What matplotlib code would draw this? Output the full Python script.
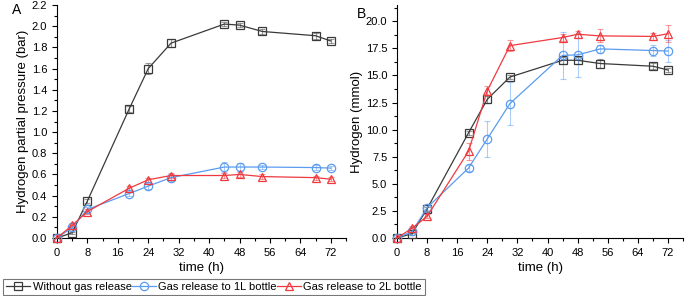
import matplotlib
matplotlib.use("Agg")
import matplotlib.pyplot as plt
from matplotlib.ticker import MultipleLocator, FormatStrFormatter

plt.rcParams['font.family'] = ['Liberation Sans', 'DejaVu Sans']

time_h = [0, 4, 8, 19, 24, 30, 44, 48, 54, 68, 72]

# Panel A: hydrogen partial pressure (bar)
a_without = [0, 0.05, 0.35, 1.22, 1.60, 1.84, 2.02, 2.01, 1.95, 1.91, 1.86]
a_without_err = [0, 0.01, 0.02, 0.03, 0.05, 0.04, 0.02, 0.02, 0.02, 0.03, 0.02]
a_1L = [0, 0.10, 0.27, 0.42, 0.49, 0.57, 0.67, 0.67, 0.67, 0.665, 0.66]
a_1L_err = [0, 0.01, 0.02, 0.02, 0.03, 0.03, 0.05, 0.04, 0.02, 0.02, 0.02]
a_2L = [0, 0.12, 0.25, 0.47, 0.55, 0.59, 0.59, 0.60, 0.58, 0.57, 0.555]
a_2L_err = [0, 0.02, 0.02, 0.02, 0.02, 0.02, 0.02, 0.02, 0.02, 0.02, 0.02]

# Panel B: hydrogen (mmol)
b_without = [0, 0.4, 2.7, 9.7, 12.8, 14.85, 16.4, 16.4, 16.1, 15.85, 15.5]
b_without_err = [0, 0.1, 0.2, 0.2, 0.3, 0.2, 0.3, 0.3, 0.4, 0.3, 0.2]
b_1L = [0, 0.6, 2.8, 6.45, 9.15, 12.4, 16.85, 16.9, 17.45, 17.3, 17.25]
b_1L_err = [0, 0.1, 0.2, 0.3, 1.65, 2.0, 2.15, 2.05, 0.4, 0.5, 1.0]
b_2L = [0, 0.9, 2.0, 8.0, 13.6, 17.75, 18.5, 18.8, 18.65, 18.6, 18.85]
b_2L_err = [0, 0.2, 0.2, 0.8, 0.4, 0.5, 0.3, 0.3, 0.6, 0.3, 0.8]

labels = ["Without gas release", "Gas release to 1L bottle", "Gas release to 2L bottle"]
colors = ["#3a3a3a", "#5b9cf0", "#f0393f"]
markers = ["s", "o", "^"]

fig = plt.figure(figsize=(6.85, 2.96), dpi=100)
axA = fig.add_axes([57/685, 1-238/296, 289/685, 233/296])
axB = fig.add_axes([397/685, 1-238/296, 286/685, 233/296])

def draw(ax, series):
    handles = []
    for (y, e), c, m, lab in zip(series, colors, markers, labels):
        ax.errorbar(time_h, y, yerr=e, fmt='none', ecolor=c, elinewidth=0.8,
                    capsize=2, capthick=0.8, alpha=0.5, zorder=2)
        h, = ax.plot(time_h, y, color=c, marker=m, markersize=6 if m != 's' else 5.5,
                     markerfacecolor='none', markeredgecolor=c, markeredgewidth=0.9,
                     linewidth=0.9, label=lab, zorder=3, clip_on=False)
        handles.append(h)
    ax.set_xlim(0, 76)
    ax.xaxis.set_major_locator(MultipleLocator(8))
    ax.xaxis.set_minor_locator(MultipleLocator(4))
    ax.spines['top'].set_visible(False)
    ax.spines['right'].set_visible(False)
    for s in ['left', 'bottom']:
        ax.spines[s].set_linewidth(0.8)
    ax.tick_params(axis='both', which='major', direction='out', length=3.5, width=0.8, labelsize=8)
    ax.tick_params(axis='both', which='minor', direction='out', length=2, width=0.8)
    ax.set_xlabel("time (h)", fontsize=9.5, labelpad=3)
    return handles

handles = draw(axA, [(a_without, a_without_err), (a_1L, a_1L_err), (a_2L, a_2L_err)])
axA.set_ylim(0, 2.2)
axA.yaxis.set_major_locator(MultipleLocator(0.2))
axA.yaxis.set_minor_locator(MultipleLocator(0.1))
axA.yaxis.set_major_formatter(FormatStrFormatter('%.1f'))
axA.set_ylabel("Hydrogen partial pressure (bar)", fontsize=9.5, labelpad=2)

draw(axB, [(b_without, b_without_err), (b_1L, b_1L_err), (b_2L, b_2L_err)])
axB.set_ylim(0, 21.5)
axB.yaxis.set_major_locator(MultipleLocator(2.5))
axB.yaxis.set_minor_locator(MultipleLocator(1.25))
axB.yaxis.set_major_formatter(FormatStrFormatter('%.1f'))
axB.set_ylabel("Hydrogen (mmol)", fontsize=9.5, labelpad=2)

fig.text(12/685, 1-10/296, "A", fontsize=10, va='center', ha='left')
fig.text(357/685, 1-14/296, "B", fontsize=10, va='center', ha='left')

leg = fig.legend(handles, labels, loc='lower left', bbox_to_anchor=(2/685, 0.0),
                 ncol=3, fontsize=8, frameon=True, fancybox=False, edgecolor='#555555',
                 handlelength=2.2, handletextpad=0.2, columnspacing=0.0,
                 borderpad=0.25, borderaxespad=0.1)
leg.get_frame().set_linewidth(0.8)

fig.savefig("out.png", dpi=100)
